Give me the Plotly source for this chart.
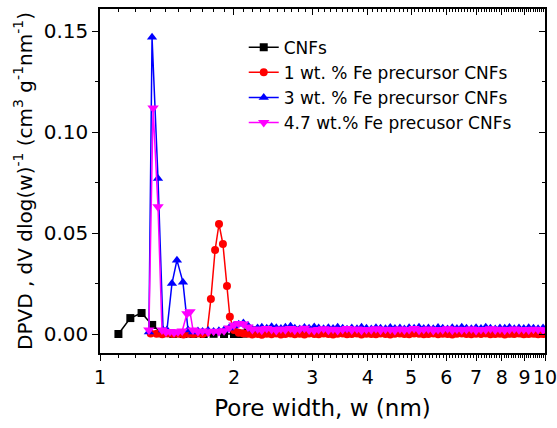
import plotly.graph_objects as go

# Pore widths (nm) shared by the long, flat tail of every distribution
tail_w = [2.05, 2.10, 2.15, 2.20, 2.26, 2.31, 2.37, 2.43, 2.49, 2.55,
          2.61, 2.68, 2.74, 2.81, 2.88, 2.95, 3.03, 3.10, 3.18, 3.26,
          3.34, 3.42, 3.51, 3.59, 3.68, 3.78, 3.87, 3.97, 4.07, 4.17,
          4.27, 4.38, 4.49, 4.60, 4.72, 4.83, 4.95, 5.08, 5.21, 5.34,
          5.47, 5.61, 5.75, 5.89, 6.04, 6.19, 6.34, 6.50, 6.66, 6.83,
          7.00, 7.18, 7.36, 7.54, 7.73, 7.92, 8.12, 8.32, 8.53, 8.74,
          8.96, 9.19, 9.42, 9.65, 9.90]

# CNFs
cnf_head_w = [1.10, 1.17, 1.24, 1.31, 1.38, 1.46, 1.54, 1.62, 1.71, 1.80, 1.90, 2.00]
cnf_head = [0.0000, 0.0079, 0.0104, 0.0045, 0.0004, 0.0001, 0.0000, 0.0001, 0.0000, 0.0001, 0.0000, 0.0000]
cnf_tail = [0.0000, 0.0002, 0.0008, 0.0015, 0.0018, 0.0016, 0.0019, 0.0021, 0.0017, 0.0015,
            0.0018, 0.0016, 0.0014, 0.0017, 0.0015, 0.0013, 0.0016, 0.0014, 0.0012, 0.0015,
            0.0013, 0.0011, 0.0014, 0.0012, 0.0010, 0.0013, 0.0011, 0.0010, 0.0012, 0.0010,
            0.0009, 0.0011, 0.0010, 0.0008, 0.0010, 0.0009, 0.0008, 0.0010, 0.0008, 0.0007,
            0.0009, 0.0008, 0.0007, 0.0009, 0.0007, 0.0006, 0.0008, 0.0007, 0.0006, 0.0008,
            0.0006, 0.0005, 0.0007, 0.0006, 0.0005, 0.0007, 0.0005, 0.0004, 0.0006, 0.0005,
            0.0004, 0.0006, 0.0005, 0.0004, 0.0005]

# 1 wt.% Fe precursor CNFs
fe1_head_w = [1.30, 1.34, 1.38, 1.42, 1.46, 1.50, 1.54, 1.58, 1.62, 1.66, 1.70, 1.74,
              1.775, 1.814, 1.851, 1.889, 1.929, 1.958, 2.00]
fe1_head = [0.0003, 0.0001, -0.0001, 0.0002, 0.0000, 0.0001, -0.0002, 0.0001, 0.0000, 0.0002, 0.0000, 0.0008,
            0.0173, 0.0416, 0.0545, 0.0446, 0.0238, 0.0085, 0.0020]
fe1_tail = [0.0006, 0.0003, 0.0001, -0.0002, 0.0000, -0.0003, 0.0001, -0.0001, 0.0002, -0.0002,
            0.0000, 0.0003, -0.0001, 0.0001, -0.0002, 0.0002, 0.0000, -0.0001, 0.0003, 0.0000,
            -0.0002, 0.0001, 0.0002, -0.0001, 0.0000, 0.0002, -0.0002, 0.0001, 0.0000, -0.0001,
            0.0002, 0.0000, -0.0002, 0.0001, 0.0003, 0.0000, -0.0001, 0.0002, 0.0001, -0.0001,
            0.0000, 0.0002, -0.0001, 0.0001, 0.0000, -0.0002, 0.0001, 0.0002, 0.0000, -0.0001,
            0.0001, 0.0000, 0.0002, -0.0001, 0.0000, 0.0001, -0.0002, 0.0001, 0.0000, 0.0002,
            -0.0001, 0.0000, 0.0001, -0.0001, 0.0000]

# 3 wt.% Fe precursor CNFs
fe3_head_w = [1.288, 1.309, 1.350, 1.386, 1.414, 1.451, 1.489, 1.536, 1.577, 1.618,
              1.66, 1.70, 1.75, 1.80, 1.85, 1.90, 1.95, 2.00]
fe3_head = [0.0010, 0.1470, 0.0770, 0.0020, 0.0020, 0.0250, 0.0366, 0.0257, 0.0020, 0.0010,
            0.0015, 0.0012, 0.0018, 0.0013, 0.0016, 0.0020, 0.0030, 0.0040]
fe3_tail = [0.0048, 0.0055, 0.0042, 0.0025, 0.0030, 0.0034, 0.0028, 0.0036, 0.0031, 0.0027,
            0.0033, 0.0038, 0.0029, 0.0025, 0.0032, 0.0028, 0.0035, 0.0030, 0.0026, 0.0031,
            0.0027, 0.0034, 0.0029, 0.0024, 0.0030, 0.0026, 0.0033, 0.0028, 0.0025, 0.0031,
            0.0029, 0.0026, 0.0032, 0.0027, 0.0030, 0.0025, 0.0031, 0.0028, 0.0034, 0.0027,
            0.0030, 0.0026, 0.0032, 0.0029, 0.0025, 0.0031, 0.0027, 0.0033, 0.0028, 0.0026,
            0.0031, 0.0027, 0.0034, 0.0029, 0.0025, 0.0030, 0.0028, 0.0032, 0.0026, 0.0030,
            0.0027, 0.0031, 0.0028, 0.0026, 0.0030]

# 4.7 wt.% Fe precursor CNFs
fe47_head_w = [1.288, 1.316, 1.350, 1.378, 1.407, 1.436, 1.467, 1.497, 1.530, 1.568,
               1.593, 1.618, 1.66, 1.70, 1.75, 1.80, 1.85, 1.90, 1.95, 2.00]
fe47_head = [0.0020, 0.1120, 0.0630, 0.0020, 0.0010, 0.0012, 0.0008, 0.0011, 0.0015, 0.0100,
             0.0110, 0.0020, 0.0012, 0.0015, 0.0010, 0.0014, 0.0011, 0.0016, 0.0030, 0.0045]
fe47_tail = [0.0052, 0.0050, 0.0035, 0.0022, 0.0025, 0.0019, 0.0027, 0.0023, 0.0018, 0.0025,
             0.0021, 0.0027, 0.0019, 0.0024, 0.0028, 0.0020, 0.0017, 0.0023, 0.0026, 0.0019,
             0.0024, 0.0018, 0.0022, 0.0027, 0.0020, 0.0025, 0.0018, 0.0023, 0.0021, 0.0026,
             0.0019, 0.0024, 0.0022, 0.0017, 0.0025, 0.0020, 0.0023, 0.0027, 0.0019, 0.0022,
             0.0025, 0.0018, 0.0023, 0.0021, 0.0026, 0.0019, 0.0024, 0.0020, 0.0022, 0.0025,
             0.0018, 0.0023, 0.0021, 0.0026, 0.0020, 0.0024, 0.0019, 0.0022, 0.0025, 0.0021,
             0.0023, 0.0020, 0.0024, 0.0022, 0.0021]

x_ticks = [1, 2, 3, 4, 5, 6, 7, 8, 9, 10]
x_minor = [i + k / 10 for i in range(1, 10) for k in range(1, 10)]
y_ticks = [0.00, 0.05, 0.10, 0.15]

FONT = "DejaVu Sans, Arial, sans-serif"

series = [
    ("CNFs", cnf_head_w, cnf_head, cnf_tail, "#000000", "square", 8),
    ("1 wt. % Fe precursor CNFs", fe1_head_w, fe1_head, fe1_tail, "#FF0000", "circle", 8),
    ("3 wt. % Fe precursor CNFs", fe3_head_w, fe3_head, fe3_tail, "#0000FF", "triangle-up", 9),
    ("4.7 wt.% Fe precusor CNFs", fe47_head_w, fe47_head, fe47_tail, "#FF00FF", "triangle-down", 10),
]

fig = go.Figure()
for name, hw, hv, tv, color, symbol, size in series:
    fig.add_trace(go.Scatter(
        x=hw + tail_w, y=hv + tv, name=name, mode="lines+markers",
        line=dict(color=color, width=1.5),
        marker=dict(color=color, symbol=symbol, size=size, line=dict(width=0)),
    ))

# empty trace so the mirrored top/right frame axes get drawn
fig.add_trace(go.Scatter(x=[], y=[], xaxis="x2", yaxis="y2", showlegend=False))

yr = [-0.0094, 0.161]
axis_common = dict(showline=True, linecolor="black", linewidth=1.5, showgrid=False,
                   zeroline=False, tickcolor="black", tickwidth=1.2, automargin=False)

fig.update_layout(
    width=557, height=428,
    margin=dict(l=100, r=12, t=9, b=75),
    paper_bgcolor="white", plot_bgcolor="white",
    font=dict(family=FONT, color="black"),
    xaxis=dict(type="log", range=[0, 1], tickmode="array", tickvals=x_ticks,
               ticktext=[str(v) for v in x_ticks], ticks="outside", ticklen=6,
               ticklabeloverflow="allow",
               minor=dict(tickmode="array", tickvals=x_minor, ticks="outside", ticklen=3,
                          tickcolor="black", tickwidth=1),
               tickfont=dict(size=19), mirror=False,
               title=dict(text="Pore width, w (nm)", font=dict(size=23), standoff=13),
               **axis_common),
    yaxis=dict(range=yr, tickmode="array", tickvals=y_ticks, ticktext=["0.00", "0.05", "0.10", "0.15"],
               ticks="outside", ticklen=6,
               minor=dict(dtick=0.025, tick0=0, ticks="outside", ticklen=3,
                          tickcolor="black", tickwidth=1),
               tickfont=dict(size=20),
               title=dict(text="DPVD , dV dlog(w)<sup>-1</sup> (cm<sup>3</sup> g<sup>-1</sup>nm<sup>-1</sup>)",
                          font=dict(size=20), standoff=6),
               **axis_common),
    xaxis2=dict(type="log", range=[0, 1], overlaying="x", side="top", anchor="y2",
                tickmode="array", tickvals=x_ticks, ticks="inside", ticklen=6,
                minor=dict(tickmode="array", tickvals=x_minor, ticks="inside", ticklen=3,
                           tickcolor="black", tickwidth=1),
                showticklabels=False, **axis_common),
    yaxis2=dict(range=yr, overlaying="y", side="right", anchor="x2",
                tickmode="array", tickvals=y_ticks, ticks="inside", ticklen=6,
                minor=dict(dtick=0.025, tick0=0, ticks="inside", ticklen=3,
                           tickcolor="black", tickwidth=1),
                showticklabels=False, **axis_common),
    legend=dict(x=0.323, y=0.94, xanchor="left", yanchor="top",
                bgcolor="rgba(0,0,0,0)", font=dict(size=17), tracegroupgap=0,
                itemwidth=30),
    showlegend=True,
)

fig.write_html("out.html")
